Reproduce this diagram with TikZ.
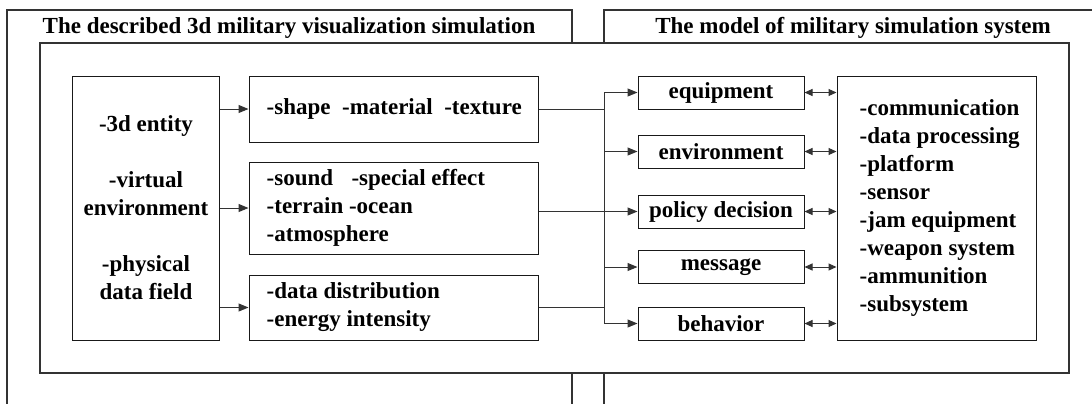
\documentclass[tikz,border=0pt]{standalone}
\usepackage{fontspec}
\setmainfont{Liberation Serif}
\usetikzlibrary{arrows.meta}
\begin{document}
\begin{tikzpicture}[x=1bp,y=-1bp,
  every node/.style={font=\bfseries\fontsize{23bp}{28bp}\selectfont},
  frame/.style={draw=black!80,line width=1.1bp},
  box/.style={draw=black!90,line width=1bp,inner sep=0pt},
  txt/.style={anchor=west,align=left,inner sep=0pt},
  cbox/.style={box,minimum width=166bp,minimum height=33bp},
  line/.style={draw=black!80,line width=1bp},
  arr/.style={line,-{Triangle[length=10bp,width=8bp]}},
  darr/.style={line,{Triangle[length=8bp,width=7bp]}-{Triangle[length=8bp,width=7bp]}}
]
\useasboundingbox (0,0) rectangle (1092,403);
\fill[white] (0,0) rectangle (1092,403);
% outer frames
\draw[frame] (7,410) -- (7,10) -- (572,10) -- (572,410);
\draw[frame] (604,410) -- (604,10) -- (1100,10);
\node (t1) at (289,28) {The described 3d military visualization simulation};
\node (t2) at (853,28) {The model of military simulation system};
% inner frame
\node[frame,fill=white,minimum width=1029bp,minimum height=330bp,inner sep=0pt] (inner) at (554.5,208) {};
% left box
\node[box,minimum width=146bp,minimum height=264bp,align=center] (A) at (146,208)
  {-3d entity\\[28bp]-virtual\\environment\\[28bp]-physical\\data field};
% middle boxes
\node[box,minimum width=289bp,minimum height=66bp] (B1) at (393.5,109) {};
\node[box,minimum width=289bp,minimum height=92bp] (B2) at (393.5,208) {};
\node[box,minimum width=289bp,minimum height=65bp] (B3) at (393.5,307.5) {};
\node[txt] (B1t) at ([xshift=18bp]B1.west) {-shape\hspace{0.5em}-material\hspace{0.5em}-texture};
\node[txt] (B2t) at ([xshift=18bp]B2.west) {-sound\hspace{0.8em}-special effect\\-terrain -ocean\\-atmosphere};
\node[txt] (B3t) at ([xshift=18bp]B3.west) {-data distribution\\-energy intensity};
% right-middle boxes
\node[cbox] (eq) at (721,92.5) {equipment};
\node[cbox] (env) at (721,151.5) {environment};
\node[cbox] (pol) at (721,211.5) {policy decision};
\node[cbox] (msg) at (721,267) {message};
\node[cbox] (beh) at (721,323.5) {behavior};
% right box
\node[box,minimum width=199bp,minimum height=264bp] (D) at (936.5,208) {};
\node[txt] (Dt) at ([xshift=23bp]D.west) {-communication\\-data processing\\-platform\\-sensor\\-jam equipment\\-weapon system\\-ammunition\\-subsystem};
% connectors A -> B
\draw[arr] (A.east |- B1.west) -- (B1.west);
\draw[arr] (A.east |- B2.west) -- (B2.west);
\draw[arr] (A.east |- B3.west) -- (B3.west);
% bus
\coordinate (bus) at (604,208);
\draw[line] (B1.east) -- (B1.east -| bus);
\draw[line] (B3.east) -- (B3.east -| bus);
\draw[line] (eq.west -| bus) -- (beh.west -| bus);
\draw[arr] (B2.east |- pol.west) -- (pol.west);
\foreach \n in {eq,env,msg,beh} { \draw[arr] (\n.west -| bus) -- (\n.west); }
% double arrows
\foreach \n in {eq,env,pol,msg,beh} { \draw[darr] (\n.east) -- (\n.east -| D.west); }
\end{tikzpicture}
\end{document}
